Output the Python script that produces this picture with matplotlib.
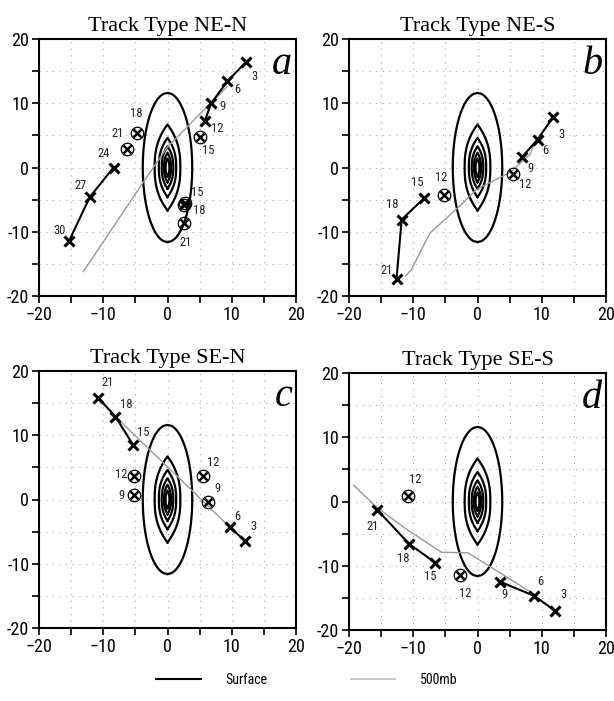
import matplotlib
matplotlib.use('Agg')
import matplotlib.pyplot as plt
from matplotlib.ticker import MultipleLocator, FuncFormatter
import numpy as np

narrow = ['Roboto Condensed', 'Roboto', 'DejaVu Sans']

# ---- data ----
titles = ['Track Type NE-N', 'Track Type NE-S', 'Track Type SE-N', 'Track Type SE-S']
letters = ['a', 'b', 'c', 'd']

# surface track segments: (hours, x, y)
a_sfc = [([3, 6, 9, 12], [12.2, 9.3, 6.8, 5.8], [16.4, 13.4, 10.0, 7.2]),
         ([24, 27, 30], [-8.4, -12.1, -15.3], [0.0, -4.6, -11.4])]
b_sfc = [([3, 6, 9], [11.8, 9.35, 6.9], [7.9, 4.35, 1.6]),
         ([15, 18, 21], [-8.35, -11.8, -12.6], [-4.8, -8.1, -17.3])]
c_sfc = [([21, 18, 15], [-10.8, -8.1, -5.35], [15.85, 12.9, 8.5]),
         ([6, 3], [9.75, 12.0], [-4.35, -6.4])]
d_sfc = [([21, 18, 15], [-15.6, -10.65, -6.6], [-1.3, -6.6, -9.5]),
         ([9, 6, 3], [3.55, 8.85, 12.05], [-12.5, -14.7, -17.0])]

# circled (secondary) centres
a_circ_h = [15, 18, 21, 15, 18, 21]
a_circ_x = [5.05, -4.7, -6.3, 2.65, 2.6, 2.55]
a_circ_y = [4.7, 5.3, 2.9, -5.6, -5.9, -8.7]
b_circ_h = [12, 12]
b_circ_x = [5.6, -5.15]
b_circ_y = [-1.0, -4.3]
c_circ_h = [12, 9, 12, 9]
c_circ_x = [-5.25, -5.25, 5.45, 6.3]
c_circ_y = [3.7, 0.7, 3.7, -0.45]
d_circ_h = [12, 12]
d_circ_x = [-10.8, -2.75]
d_circ_y = [0.8, -11.4]

# 500mb tracks
a_500_x = [-13.1, -3.95, 0.0, 6.2, 9.3]
a_500_y = [-16.2, -2.55, 3.2, 9.5, 12.6]
b_500_x = [-11.2, -10.3, -7.4, -2.75, -0.15, 5.0, 8.15, 9.0]
b_500_y = [-16.9, -15.9, -10.2, -6.0, -3.4, -0.8, 2.0, 4.0]
c_500_x = [-8.1, 0.5, 9.75]
c_500_y = [12.9, 4.6, -4.35]
d_500_x = [-19.3, -15.7, -10.8, -5.6, -1.45, 8.75]
d_500_y = [2.55, -0.9, -4.5, -7.9, -8.0, -14.4]

# composite contours (half width / half height / shape)
cont_w = [3.85, 2.0, 1.35, 0.9, 0.55, 0.3]
cont_h = [11.6, 6.7, 4.6, 3.3, 2.3, 1.4]
cont_q = [2.0, 2.5, 2.5, 2.5, 2.5, 2.5]
cont_p = [2.0, 1.0, 1.0, 1.0, 1.0, 1.0]

# label offsets in pixels (surface points, then circles)
a_sfc_off = [[(9, -14), (10, -8), (11, -3), (12, -7)], [(-10, 14), (-9, 12), (-10, 10)]]
a_circ_off = [(8, -13), (-1, 20), (-9, 15), (13, 11), (15, -5), (2, -19)]
b_sfc_off = [[(8, -18), (8, -11), (9, -11)], [(-7, 16), (-9, 15), (-10, 8)]]
b_circ_off = [(12, -11), (-3, 18)]
c_sfc_off = [[(10, 15), (11, 12), (10, 12)], [(7, 11), (9, 14)]]
c_circ_off = [(-13, 1), (-12, 0), (11, 13), (9, 14)]
d_sfc_off = [[(-5, -17), (-6, -15), (-5, -14)], [(4, -13), (6, 14), (9, 16)]]
d_circ_off = [(7, 17), (5, -19)]

panels = [
    (a_sfc, a_sfc_off, a_circ_h, a_circ_x, a_circ_y, a_circ_off, a_500_x, a_500_y),
    (b_sfc, b_sfc_off, b_circ_h, b_circ_x, b_circ_y, b_circ_off, b_500_x, b_500_y),
    (c_sfc, c_sfc_off, c_circ_h, c_circ_x, c_circ_y, c_circ_off, c_500_x, c_500_y),
    (d_sfc, d_sfc_off, d_circ_h, d_circ_x, d_circ_y, d_circ_off, d_500_x, d_500_y),
]

W, H = 614, 701
rects = [(39, 296), (349, 296), (39, 628), (349, 630)]

fig = plt.figure(figsize=(W / 100, H / 100), dpi=100)

for i, (sfc, sfc_off, ch, cx, cy, coff, gx, gy) in enumerate(panels):
    left, bottom = rects[i]
    ax = fig.add_axes([left / W, 1 - bottom / H, 257 / W, 257 / H])
    ax.set_xlim(-20, 20)
    ax.set_ylim(-20, 20)

    # dotted grid every 5
    for v in range(-15, 20, 5):
        ax.axvline(v, color='#aaaaaa', lw=0.8, ls=(0, (1, 5)), zorder=0)
        ax.axhline(v, color='#aaaaaa', lw=0.8, ls=(0, (1, 5)), zorder=0)

    # contours
    for w, h, q, p in zip(cont_w, cont_h, cont_q, cont_p):
        t = np.linspace(-1, 1, 201)
        xx = w * (1 - np.abs(t) ** q) ** (1 / p)
        ax.plot(np.concatenate([xx, -xx[::-1]]), np.concatenate([t * h, t[::-1] * h]),
                color='black', lw=1.6, zorder=2)

    # 500mb track
    ax.plot(gx, gy, color='#999999', lw=1.0, zorder=3)

    # surface track
    for (hrs, xs, ys), offs in zip(sfc, sfc_off):
        ax.plot(xs, ys, color='black', lw=1.5, marker='x', ms=7, mew=2.2, zorder=4)
        for hh, x, y, o in zip(hrs, xs, ys, offs):
            ax.annotate(str(hh), (x, y), xytext=o, textcoords='offset pixels',
                        ha='center', va='center', fontsize=9, family=narrow, color='#222222')

    # circled centres
    ax.plot(cx, cy, ls='none', marker='o', ms=9, mfc='none', mec='black', mew=0.9, zorder=4)
    ax.plot(cx, cy, ls='none', marker='x', ms=5.5, mew=1.8, color='black', zorder=5)
    for hh, x, y, o in zip(ch, cx, cy, coff):
        ax.annotate(str(hh), (x, y), xytext=o, textcoords='offset pixels',
                    ha='center', va='center', fontsize=9, family=narrow, color='#222222')

    ax.set_title(titles[i], fontsize=16, family='Liberation Serif', pad=6)
    ax.text(0.985, 0.90, letters[i], transform=ax.transAxes, ha='right', va='center',
            fontsize=29, family='Liberation Serif', style='italic')

    ax.xaxis.set_major_locator(MultipleLocator(10))
    ax.yaxis.set_major_locator(MultipleLocator(10))
    ax.xaxis.set_minor_locator(MultipleLocator(5))
    ax.yaxis.set_minor_locator(MultipleLocator(5))
    ax.yaxis.set_major_formatter(FuncFormatter(lambda v, pos: '%d' % v))
    ax.tick_params(which='both', direction='out', length=5, width=1.2, pad=2,
                   top=False, right=False)
    for lab in ax.get_xticklabels() + ax.get_yticklabels():
        lab.set_fontsize(13)
        lab.set_family(narrow)
    for s in ax.spines.values():
        s.set_linewidth(1.5)

h1, = plt.plot([], [], color='black', lw=1.5, label='Surface')
h2, = plt.plot([], [], color='#bbbbbb', lw=1.2, label='500mb')
fig.legend(handles=[h1, h2], loc='center', bbox_to_anchor=(0.5, 1 - 680 / H), ncol=2,
           frameon=False, handlelength=3.2, handletextpad=1.8, columnspacing=6.0,
           prop={'family': narrow, 'size': 10})

fig.savefig('out.png', dpi=100)
